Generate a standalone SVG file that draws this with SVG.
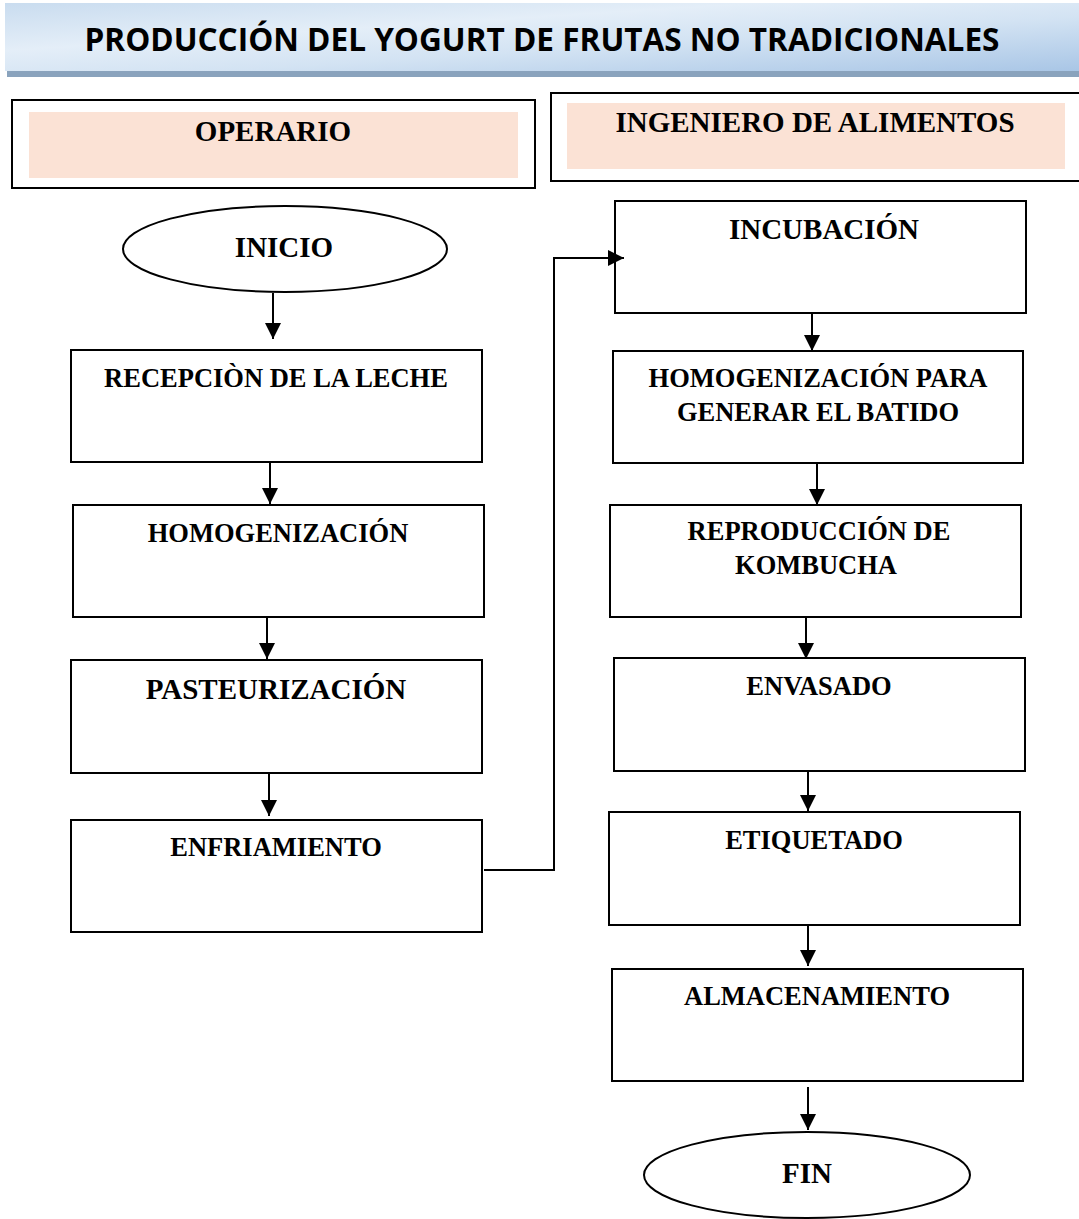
<svg xmlns="http://www.w3.org/2000/svg" width="1079" height="1219" viewBox="0 0 1079 1219">
<defs>
<linearGradient id="tg" x1="0" y1="0" x2="1" y2="1">
<stop offset="0" stop-color="#c9dcef"/>
<stop offset="0.35" stop-color="#e4eef8"/>
<stop offset="0.6" stop-color="#d3e3f3"/>
<stop offset="1" stop-color="#a9c6e6"/>
</linearGradient>
<marker id="ah" markerUnits="userSpaceOnUse" markerWidth="16" markerHeight="18" refX="16" refY="8" orient="auto">
<path d="M0,0 L16,8 L0,16 Z" fill="#000"/>
</marker>
<style>
.box{fill:#fff;stroke:#000;stroke-width:2}
.lane{fill:#fff;stroke:#000;stroke-width:2}
.laneFill{fill:#fbe2d5}
.t{font-family:"Liberation Serif","Times New Roman",serif;font-weight:bold;font-size:26.5px;fill:#000;text-anchor:middle}
.big{font-size:29px}
.conn{fill:none;stroke:#000;stroke-width:2;marker-end:url(#ah)}
</style>
</defs>
<g id="title">
<rect x="7" y="7" width="1072" height="70" fill="#8aa3bd"/>
<rect x="5" y="3" width="1074" height="68" fill="url(#tg)"/>
<text x="542" y="51" font-family="'Open Sans','Liberation Sans',sans-serif" font-weight="bold" font-size="32" text-anchor="middle" textLength="915" lengthAdjust="spacingAndGlyphs">PRODUCCIÓN DEL YOGURT DE FRUTAS NO TRADICIONALES</text>
</g>
<g id="lane-operario">
<rect class="lane" x="12" y="100" width="523" height="88"/>
<rect class="laneFill" x="29" y="112" width="489" height="66"/>
<text class="t big" x="273" y="141">OPERARIO</text>
</g>
<g id="lane-ingeniero">
<rect class="lane" x="551" y="93" width="540" height="88"/>
<rect class="laneFill" x="567" y="103" width="498" height="66"/>
<text class="t big" x="815" y="132">INGENIERO DE ALIMENTOS</text>
</g>
<g id="inicio">
<ellipse cx="285" cy="249" rx="162" ry="43" fill="#fff" stroke="#000" stroke-width="2"/>
<text class="t big" x="284" y="257">INICIO</text>
</g>
<g id="recepcion">
<rect class="box" x="71" y="350" width="411" height="112"/>
<text class="t" x="276" y="387">RECEPCIÒN DE LA LECHE</text>
</g>
<g id="homogenizacion">
<rect class="box" x="73" y="505" width="411" height="112"/>
<text class="t" x="278" y="542">HOMOGENIZACIÓN</text>
</g>
<g id="pasteurizacion">
<rect class="box" x="71" y="660" width="411" height="113"/>
<text class="t big" x="276" y="699">PASTEURIZACIÓN</text>
</g>
<g id="enfriamiento">
<rect class="box" x="71" y="820" width="411" height="112"/>
<text class="t" x="276" y="856">ENFRIAMIENTO</text>
</g>
<g id="incubacion">
<rect class="box" x="615" y="201" width="411" height="112"/>
<text class="t big" x="824" y="239">INCUBACIÓN</text>
</g>
<g id="homogenizacion-batido">
<rect class="box" x="613" y="351" width="410" height="112"/>
<text class="t" x="818" y="387">HOMOGENIZACIÓN PARA</text>
<text class="t" x="818" y="421">GENERAR EL BATIDO</text>
</g>
<g id="kombucha">
<rect class="box" x="610" y="505" width="411" height="112"/>
<text class="t" x="819" y="540">REPRODUCCIÓN DE</text>
<text class="t" x="816" y="574">KOMBUCHA</text>
</g>
<g id="envasado">
<rect class="box" x="614" y="658" width="411" height="113"/>
<text class="t" x="819" y="695">ENVASADO</text>
</g>
<g id="etiquetado">
<rect class="box" x="609" y="812" width="411" height="113"/>
<text class="t" x="814" y="849">ETIQUETADO</text>
</g>
<g id="almacenamiento">
<rect class="box" x="612" y="969" width="411" height="112"/>
<text class="t" x="817" y="1005">ALMACENAMIENTO</text>
</g>
<g id="fin">
<ellipse cx="807" cy="1175" rx="163" ry="43" fill="#fff" stroke="#000" stroke-width="2"/>
<text class="t big" x="807" y="1183">FIN</text>
</g>
<g id="connectors">
<path class="conn" d="M273,293 V339"/>
<path class="conn" d="M270,462 V504"/>
<path class="conn" d="M267,617 V659"/>
<path class="conn" d="M269,773 V816"/>
<path class="conn" d="M484,870 H554 V258 H624"/>
<path class="conn" d="M812,313 V351"/>
<path class="conn" d="M817,463 V505"/>
<path class="conn" d="M806,617 V659"/>
<path class="conn" d="M808,771 V811"/>
<path class="conn" d="M808,925 V966"/>
<path class="conn" d="M808,1087 V1130"/>
</g>
</svg>
